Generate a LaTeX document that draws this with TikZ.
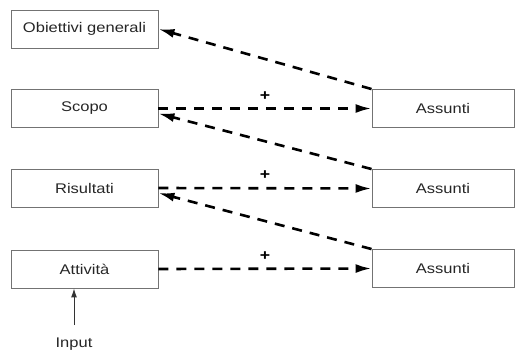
\documentclass[tikz,border=0pt]{standalone}
\usepackage{fontspec}
\setmainfont[FakeStretch=1.18]{Liberation Sans}
\usetikzlibrary{arrows.meta}
\begin{document}
\begin{tikzpicture}[x=1pt,y=-1pt,
  box/.style={draw=black!55,line width=0.9pt,rectangle,inner sep=0pt,
    minimum height=38pt,font=\fontsize{14}{16}\selectfont,text=black!85},
  lbox/.style={box,minimum width=147pt},
  rbox/.style={box,minimum width=142pt},
  dasharrow/.style={line width=2.6pt,dash pattern=on 10pt off 8pt,
    -{Latex[length=16pt,width=9pt]}},
  plus/.style={font=\bfseries\fontsize{15}{16}\selectfont,inner sep=0pt}]
\useasboundingbox (0,0) rectangle (515,351);
\node[lbox] (obi) at (84.5,29) {Obiettivi generali};
\node[lbox] (sco) at (84.5,108.5) {Scopo};
\node[lbox] (ris) at (84.5,188) {Risultati};
\node[lbox] (att) at (84.5,269) {Attività};
\node[rbox] (a1) at (443,108.5) {Assunti};
\node[rbox] (a2) at (443,188.5) {Assunti};
\node[rbox] (a3) at (443,268.5) {Assunti};
\node[font=\fontsize{14}{16}\selectfont,text=black!85,inner sep=0pt,anchor=north] (inp) at (74,338) {Input};
\coordinate (inptop) at (74,325);

\draw[dasharrow] (a1.north west) -- (obi.east);
\draw[dasharrow] (sco.east) -- node[plus,above=7pt] {+} (a1.west);
\draw[dasharrow] (a2.north west) -- ([yshift=-5pt]sco.east);
\draw[dasharrow] (ris.east) -- node[plus,above=7pt] {+} (a2.west);
\draw[dasharrow] (a3.north west) -- ([yshift=-5pt]ris.east);
\draw[dasharrow] (att.east) -- node[plus,above=7pt] {+} (a3.west);
\draw[line width=1pt,black!80,-{Latex[length=9pt,width=6pt]}] (inptop) -- (att.south -| inptop);
\end{tikzpicture}
\end{document}
